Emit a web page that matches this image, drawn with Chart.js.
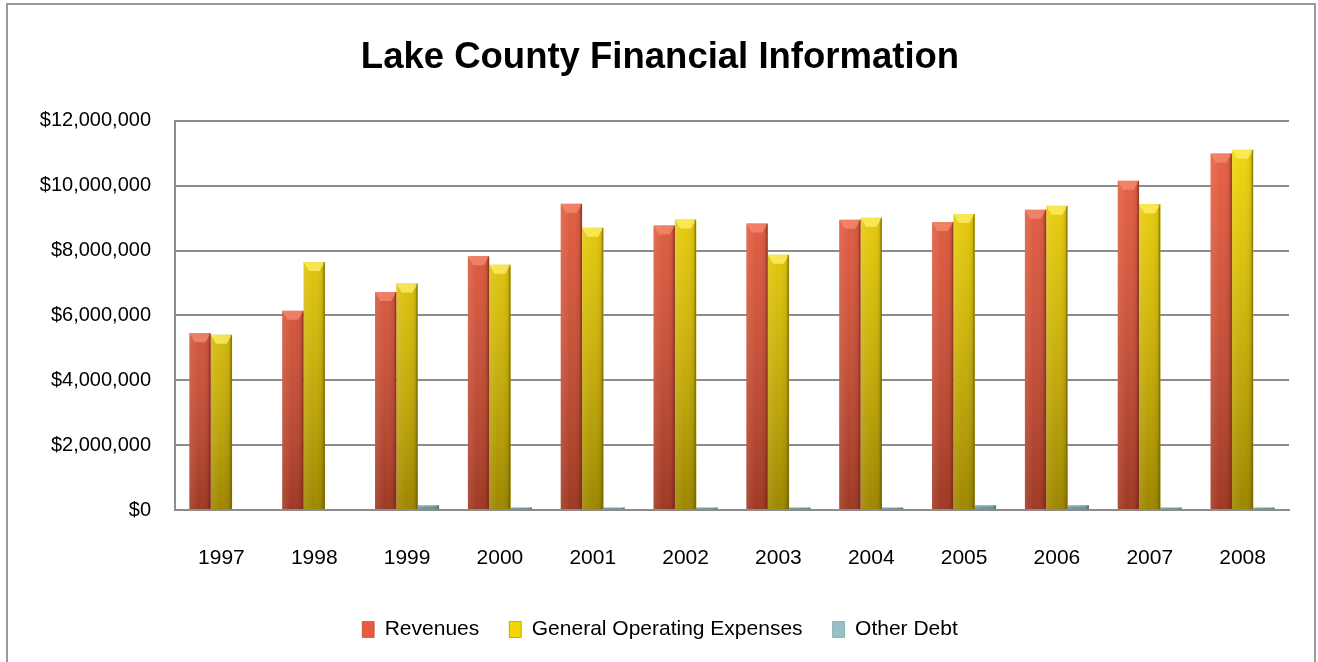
<!DOCTYPE html>
<html>
<head>
<meta charset="utf-8">
<script src="https://cdn.jsdelivr.net/npm/chart.js@4.4.1/dist/chart.umd.min.js"></script>
<style>
  html, body { margin: 0; padding: 0; background: #ffffff; }
  #wrap { position: relative; width: 1318px; height: 662px; overflow: hidden; }
  #frame { position: absolute; left: 6px; top: 3px; width: 1310px; height: 720px; box-sizing: border-box; border: 2px solid #9a9a9a; pointer-events: none; }
  canvas { position: absolute; left: 0; top: 0; }
</style>
</head>
<body>
<div id="wrap">
  <canvas id="c" width="1318" height="662"></canvas>
  <div id="frame"></div>
</div>
<script>
const titleText = 'Lake County Financial Information';
const categories = ['1997','1998','1999','2000','2001','2002','2003','2004','2005','2006','2007','2008'];
const revenues  = [5450000, 6140000, 6720000, 7820000, 9440000, 8770000, 8830000, 8950000, 8880000, 9260000, 10150000, 10990000];
const expenses  = [5400000, 7650000, 6980000, 7560000, 8700000, 8960000, 7870000, 9010000, 9130000, 9380000, 9430000, 11110000];
const otherDebt = [0, 0, 150000, 80000, 80000, 80000, 80000, 80000, 150000, 150000, 80000, 80000];
const seriesNames = ['Revenues', 'General Operating Expenses', 'Other Debt'];
const yMin = 0, yMax = 12000000, yStep = 2000000;

const palette = [
  { top: '#ea5a3c', bottom: '#b9432a', light: '#f58b72', dark: '#8f2f1c' },
  { top: '#f3d700', bottom: '#b89d00', light: '#fff06a', dark: '#7d6c00' },
  { top: '#97c1c6', bottom: '#7aa2a8', light: '#c6e3e6', dark: '#5b8086' }
];

const bevelPlugin = {
  id: 'bevel',
  afterDatasetsDraw(chart) {
    const ctx = chart.ctx;
    chart.data.datasets.forEach((ds, di) => {
      const meta = chart.getDatasetMeta(di);
      const pal = palette[di];
      meta.data.forEach(bar => {
        const w = bar.width, x0 = bar.x - w / 2, x1 = bar.x + w / 2;
        const top = Math.min(bar.y, bar.base), bot = Math.max(bar.y, bar.base);
        const h = bot - top;
        if (h < 0.5) return;
        ctx.save();
        ctx.beginPath();
        ctx.rect(x0, top, w, h);
        ctx.clip();
        const vg = ctx.createLinearGradient(0, top, 0, bot);
        vg.addColorStop(0, 'rgba(255,255,255,0.06)');
        vg.addColorStop(1, 'rgba(0,0,0,0.14)');
        ctx.fillStyle = vg;
        ctx.fillRect(x0, top, w, h);
        const hg = ctx.createLinearGradient(x0, 0, x1, 0);
        hg.addColorStop(0, 'rgba(255,255,255,0.10)');
        hg.addColorStop(0.45, 'rgba(255,255,255,0.0)');
        hg.addColorStop(0.85, 'rgba(0,0,0,0.06)');
        hg.addColorStop(1, 'rgba(0,0,0,0.30)');
        ctx.fillStyle = hg;
        ctx.fillRect(x0, top, w, h);
        if (h > 6) {
          const d = Math.min(9, h / 2);
          ctx.beginPath();
          ctx.moveTo(x0, top);
          ctx.lineTo(x1, top);
          ctx.lineTo(x1 - w * 0.25, top + d);
          ctx.lineTo(x0 + w * 0.25, top + d);
          ctx.closePath();
          ctx.fillStyle = pal.light;
          ctx.globalAlpha = 0.75;
          ctx.fill();
          ctx.globalAlpha = 1;
        }
        ctx.fillStyle = pal.dark;
        ctx.globalAlpha = 0.55;
        ctx.fillRect(x1 - 1.5, top, 1.5, h);
        ctx.globalAlpha = 1;
        ctx.restore();
      });
    });
  }
};

function barFill(di) {
  return function(context) {
    const chart = context.chart;
    const area = chart.chartArea;
    if (!area) return palette[di].top;
    const g = chart.ctx.createLinearGradient(0, area.top, 0, area.bottom);
    g.addColorStop(0, palette[di].top);
    g.addColorStop(1, palette[di].bottom);
    return g;
  };
}

const datasets = [revenues, expenses, otherDebt].map((vals, i) => ({
  label: seriesNames[i],
  data: vals,
  backgroundColor: barFill(i),
  borderWidth: 0,
  barPercentage: 1.0,
  categoryPercentage: 0.69
}));

const baseFamily = "'Liberation Sans', Arial, sans-serif";

new Chart(document.getElementById('c'), {
  type: 'bar',
  data: { labels: categories, datasets },
  options: {
    responsive: false,
    animation: false,
    layout: { padding: { left: 31, right: 29, top: 0, bottom: 12 } },
    plugins: {
      title: {
        display: true,
        text: titleText,
        color: '#000000',
        font: { family: baseFamily, size: 36.5, weight: 'bold' },
        padding: { top: 36, bottom: 41 }
      },
      legend: {
        position: 'bottom',
        labels: {
          color: '#000000',
          font: { family: baseFamily, size: 21 },
          boxWidth: 12,
          boxHeight: 16,
          padding: 30,
          generateLabels(chart) {
            return chart.data.datasets.map((ds, i) => ({
              text: ds.label,
              fillStyle: palette[i].top,
              strokeStyle: palette[i].dark,
              lineWidth: 0.5,
              datasetIndex: i,
              hidden: false
            }));
          }
        }
      },
      tooltip: { enabled: false }
    },
    scales: {
      x: {
        grid: { display: false, drawTicks: false },
        border: { display: true, color: '#8c8c8c', width: 2 },
        ticks: {
          color: '#000000',
          font: { family: baseFamily, size: 21 },
          padding: 36,
          maxRotation: 0
        },
        afterFit(axis) { axis.height = 79; }
      },
      y: {
        min: yMin,
        max: yMax,
        grid: { color: '#8c8c8c', lineWidth: 2, drawTicks: false },
        border: { display: true, color: '#8c8c8c', width: 2 },
        ticks: {
          stepSize: yStep,
          color: '#000000',
          font: { family: baseFamily, size: 20 },
          padding: 24,
          callback: v => '$' + Number(v).toLocaleString('en-US')
        },
        afterFit(axis) { axis.width = 144; }
      }
    }
  },
  plugins: [bevelPlugin]
});
</script>
</body>
</html>
